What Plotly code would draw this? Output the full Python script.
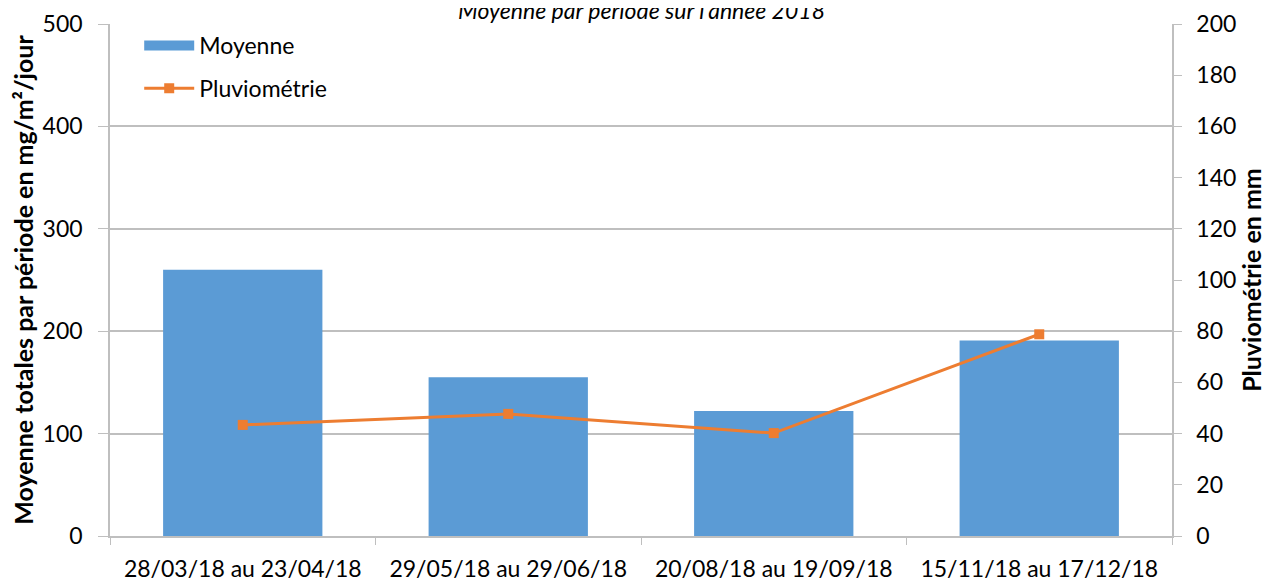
import plotly.graph_objects as go

periods = ["28/03/18 au 23/04/18", "29/05/18 au 29/06/18",
           "20/08/18 au 19/09/18", "15/11/18 au 17/12/18"]
moyenne = [260, 155, 122, 191]
pluviometrie = [43.4, 47.7, 40.2, 78.8]

FONT = "Lato"
GRID = "#bfbfbf"
BLUE = "#5b9bd5"
ORANGE = "#ed7d31"

fig = go.Figure()
fig.add_trace(go.Bar(
    x=periods, y=moyenne, name="Moyenne",
    marker=dict(color=BLUE, line=dict(width=0)),
    yaxis="y", showlegend=False,
))
# legend entry drawn as a wide blue band (Excel style)
fig.add_trace(go.Scatter(
    x=[None], y=[None], name="Moyenne", mode="lines",
    line=dict(color=BLUE, width=12),
    yaxis="y", legendgroup="a",
))
fig.add_trace(go.Scatter(
    x=periods, y=pluviometrie, name="Pluviométrie",
    mode="lines+markers",
    line=dict(color=ORANGE, width=3),
    marker=dict(symbol="square", size=10, color=ORANGE),
    yaxis="y2", legendgroup="b",
))

fig.update_layout(
    width=1266, height=573,
    margin=dict(l=102, r=102, t=16, b=45),
    paper_bgcolor="white", plot_bgcolor="white",
    font=dict(family=FONT, size=22, color="#000000"),
    bargap=0.4,
    showlegend=True,
    legend=dict(
        x=0.0275, y=1.0, xanchor="left", yanchor="top",
        bgcolor="rgba(0,0,0,0)", font=dict(size=23, family=FONT),
        traceorder="grouped", tracegroupgap=10, itemwidth=50,
    ),
    xaxis=dict(
        type="category", automargin=False,
        showline=True, linecolor=GRID, linewidth=1.5,
        ticks="outside", tickson="boundaries", ticklen=7, tickcolor=GRID,
        showgrid=False,
        tickfont=dict(size=23, family=FONT),
        ticklabelstandoff=12,
    ),
    yaxis=dict(
        range=[0, 500], dtick=100, automargin=False,
        showline=True, linecolor=GRID, linewidth=1.5,
        ticks="outside", ticklen=10, tickcolor=GRID,
        showgrid=True, gridcolor=GRID, gridwidth=1.5,
        zeroline=False,
        tickfont=dict(size=23, family=FONT),
        ticklabelstandoff=11,
        title=dict(text="<b>Moyenne totales par période en mg/m²/jour</b>",
                   font=dict(size=25, family=FONT), standoff=9),
    ),
    yaxis2=dict(
        range=[0, 200], dtick=20, automargin=False,
        overlaying="y", side="right",
        showline=True, linecolor=GRID, linewidth=1.5,
        ticks="outside", ticklen=8, tickcolor=GRID,
        showgrid=False, zeroline=False,
        tickfont=dict(size=23, family=FONT),
        ticklabelstandoff=10,
        title=dict(text="<b>Pluviométrie en mm</b>",
                   font=dict(size=25, family=FONT), standoff=6),
    ),
    annotations=[dict(
        text="<i>Moyenne par période sur l'année 2018</i>",
        xref="paper", yref="paper", x=0.5, y=1.027,
        xanchor="center", yanchor="middle", showarrow=False,
        font=dict(size=23, family=FONT, color="#000000"),
    )],
)

fig.write_html("out.html")
